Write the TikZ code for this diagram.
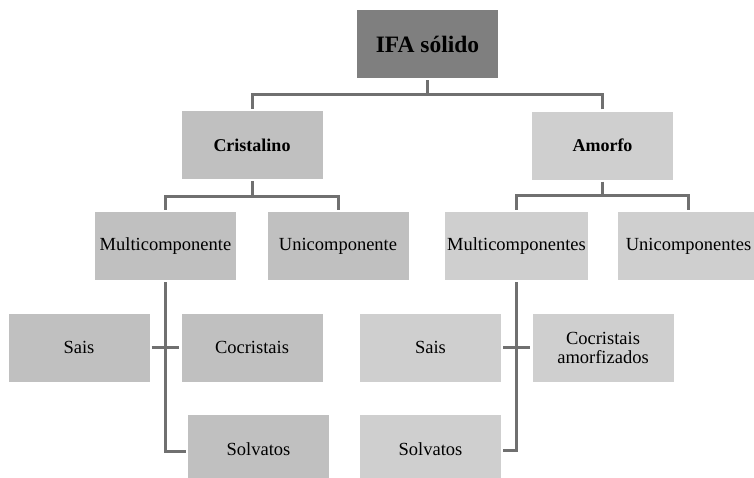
\documentclass[tikz,border=0pt]{standalone}
\usepackage{fontspec}
\setmainfont{Liberation Serif}
\definecolor{topfill}{HTML}{7F7F7F}
\definecolor{crisfill}{HTML}{C0C0C0}
\definecolor{amorfill}{HTML}{CFCFCF}
\definecolor{linkgray}{HTML}{707070}
\begin{document}
\begin{tikzpicture}[x=1pt,y=-1pt,
  box/.style={rectangle, inner sep=2pt, minimum width=141pt, minimum height=68pt,
    align=center, font=\fontsize{18.5}{19}\selectfont, text=black},
  topbox/.style={box, fill=topfill, font=\bfseries\fontsize{23.5}{26}\selectfont},
  headbox/.style={box, font=\bfseries\fontsize{18}{20}\selectfont},
  crisbox/.style={fill=crisfill},
  amorbox/.style={fill=amorfill},
  link/.style={draw=linkgray, line width=3pt, shorten <=2pt, shorten >=2pt},
  stem/.style={draw=linkgray, line width=3pt}]
\useasboundingbox (0,0) rectangle (754,477);
\begin{scope}
\clip (0,0) rectangle (754,477);
% root
\node[topbox] (ifa) at (427.5,44) {IFA sólido};
% first level
\node[headbox, crisbox] (cri) at (252,145) {Cristalino};
\node[headbox, amorbox] (amo) at (602.5,145.5) {Amorfo};
% second level
\node[box, crisbox] (mc1) at (165.5,246) {Multicomponente};
\node[box, crisbox] (uc1) at (338,246) {Unicomponente};
\node[box, amorbox] (mc2) at (516.5,246) {Multicomponentes};
\node[box, amorbox] (uc2) at (688.5,246) {Unicomponentes};
% third level, crystalline side
\node[box, crisbox] (sais1) at (79,347.5) {Sais};
\node[box, crisbox] (coc1) at (252,347.5) {Cocristais};
\node[box, crisbox] (solv1) at (258.5,449) {Solvatos};
% third level, amorphous side
\node[box, amorbox] (sais2) at (430.5,347.5) {Sais};
\node[box, amorbox] (coc2) at (603,347.5) {Cocristais\\amorfizados};
\node[box, amorbox] (solv2) at (430.5,449) {Solvatos};
\end{scope}
% connectors (page y grows upward, so downward shifts are negative)
\coordinate (j0) at ([yshift=-16pt]ifa.south);
\draw[stem] ([yshift=-2pt]ifa.south) -- (j0);
\draw[link, shorten >=0pt] (cri.north) |- (j0);
\draw[link, shorten >=0pt] (amo.north) |- (j0);

\coordinate (j1) at ([yshift=-17pt]cri.south);
\draw[stem] ([yshift=-2pt]cri.south) -- (j1);
\draw[link, shorten >=0pt] (mc1.north) |- (j1);
\draw[link, shorten >=0pt] (uc1.north) |- (j1);

\coordinate (j2) at ([yshift=-16pt]amo.south);
\draw[stem] ([yshift=-2pt]amo.south) -- (j2);
\draw[link, shorten >=0pt] (mc2.north) |- (j2);
\draw[link, shorten >=0pt] (uc2.north) |- (j2);

\draw[link] (mc1.south) |- ([yshift=-2pt]solv1.west);
\draw[link] (sais1.east) -- (coc1.west);
\draw[link] (mc2.south) |- ([yshift=-1pt]solv2.east);
\draw[link] (sais2.east) -- (coc2.west);
\end{tikzpicture}
\end{document}
